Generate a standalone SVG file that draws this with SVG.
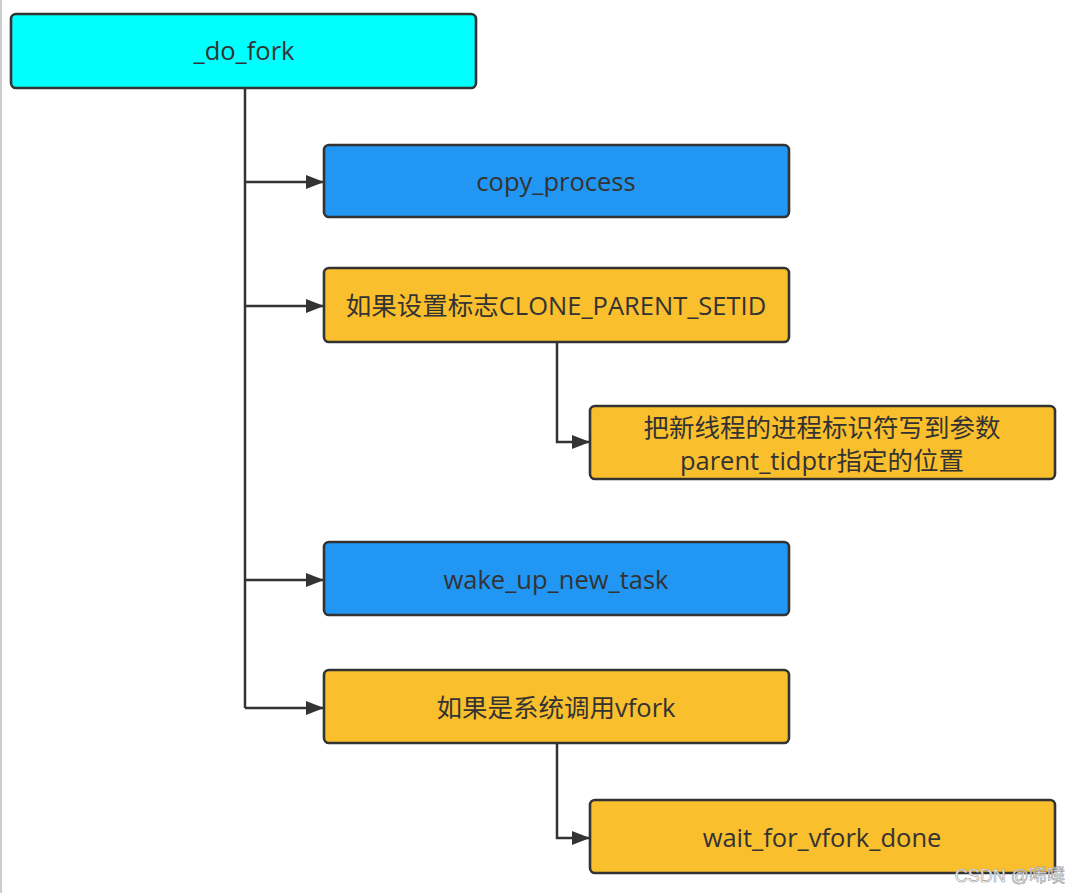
<svg xmlns="http://www.w3.org/2000/svg" width="1080" height="893" viewBox="0 0 1080 893">
<defs>
<marker id="arr" markerWidth="18" markerHeight="14" refX="17" refY="7" orient="auto" markerUnits="userSpaceOnUse">
<path d="M0,0 L18,7 L0,14 Z" fill="#333333"/>
</marker>
<style>
.box{stroke:#333333;stroke-width:2.6}
.cyan{fill:#00FFFF}
.blue{fill:#2196F3}
.yel{fill:#F9BF2D}
.t{font-family:"Open Sans","Noto Sans CJK SC",sans-serif;font-size:25.5px;fill:#333333;text-anchor:middle}
.c{fill:none;stroke:#333333;stroke-width:2.5}
</style>
</defs>
<rect x="0" y="0" width="1080" height="893" fill="#ffffff"/>
<line x1="1" y1="0" x2="1" y2="893" stroke="#cccccc" stroke-width="2"/>
<g id="connectors">
<path class="c" d="M245,88 V708"/>
<path class="c" d="M245,182 H323" marker-end="url(#arr)"/>
<path class="c" d="M245,306 H323" marker-end="url(#arr)"/>
<path class="c" d="M245,580 H323" marker-end="url(#arr)"/>
<path class="c" d="M245,708 H323" marker-end="url(#arr)"/>
<path class="c" d="M557,342 V442 H589" marker-end="url(#arr)"/>
<path class="c" d="M557,743 V838 H589" marker-end="url(#arr)"/>
</g>
<g id="do_fork">
<rect class="box cyan" x="11" y="14" width="465" height="74" rx="5"/>
<text class="t" x="244" y="60">_do_fork</text>
</g>
<g id="copy_process">
<rect class="box blue" x="324" y="145" width="465" height="72" rx="5"/>
<text class="t" x="556" y="191">copy_process</text>
</g>
<g id="clone_parent_setid">
<rect class="box yel" x="324" y="268" width="465" height="74" rx="5"/>
<text class="t" x="556" y="315">如果设置标志CLONE_PARENT_SETID</text>
</g>
<g id="write_tid">
<rect class="box yel" x="590" y="406" width="465" height="73" rx="5"/>
<text class="t" x="822" y="437">把新线程的进程标识符写到参数</text>
<text class="t" x="822" y="470">parent_tidptr指定的位置</text>
</g>
<g id="wake_up_new_task">
<rect class="box blue" x="324" y="542" width="465" height="73" rx="5"/>
<text class="t" x="556" y="589">wake_up_new_task</text>
</g>
<g id="if_vfork">
<rect class="box yel" x="324" y="670" width="465" height="73" rx="5"/>
<text class="t" x="556" y="717">如果是系统调用vfork</text>
</g>
<g id="wait_for_vfork_done">
<rect class="box yel" x="590" y="800" width="465" height="73" rx="5"/>
<text class="t" x="822" y="847">wait_for_vfork_done</text>
</g>
<text x="1065" y="882" font-family="'Liberation Sans','Noto Sans CJK SC',sans-serif" font-size="18" fill="#ffffff" stroke="#999999" stroke-width="0.6" text-anchor="end">CSDN @唏噗</text>
</svg>
